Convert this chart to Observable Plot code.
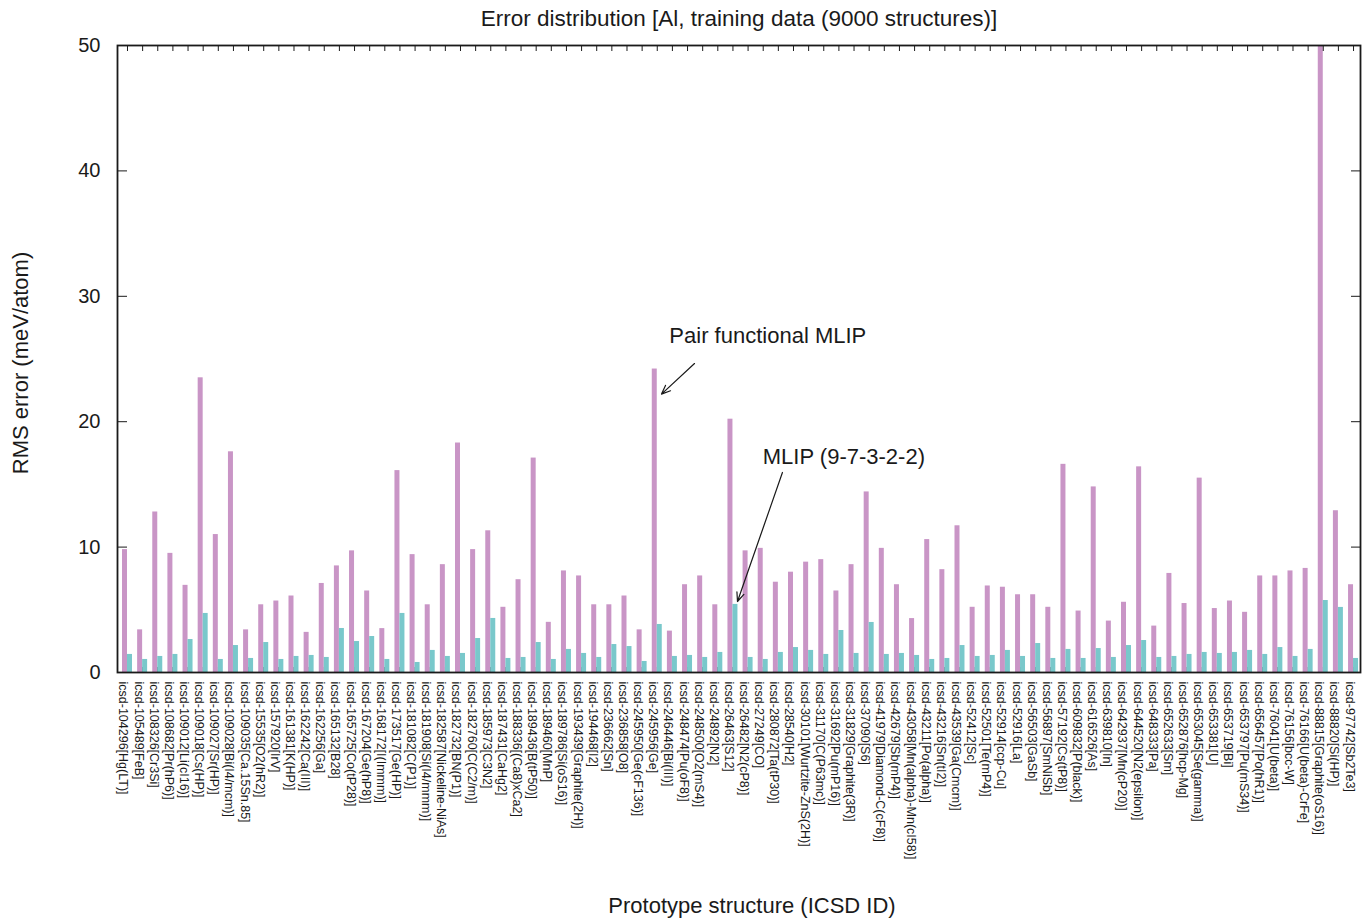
<!DOCTYPE html>
<html>
<head>
<meta charset="utf-8">
<script src="https://cdn.jsdelivr.net/npm/d3@7"></script>
<script src="https://cdn.jsdelivr.net/npm/@observablehq/plot@0.6"></script>
<style>
  html, body { margin: 0; padding: 0; background: #fff; }
  svg { display: block; }
</style>
</head>
<body>
<div id="chart"></div>
<script>
const categories = [
  "icsd-104296[Hg(LT)]","icsd-105489[FeB]","icsd-108326[Cr3Si]","icsd-108682[Pr(hP6)]","icsd-109012[Li(cI16)]",
  "icsd-109018[Cs(HP)]","icsd-109027[Sr(HP)]","icsd-109028[Bi(I4/mcm)]","icsd-109035[Ca.15Sn.85]","icsd-15535[O2(hR2)]",
  "icsd-157920[IrV]","icsd-161381[K(HP)]","icsd-162242[Ca(III)]","icsd-162256[Ga]","icsd-165132[B28]",
  "icsd-165725[Co(tP28)]","icsd-167204[Ge(hP8)]","icsd-168172[I(Immm)]","icsd-173517[Ge(HP)]","icsd-181082[C(P1)]",
  "icsd-181908[Si(I4/mmm)]","icsd-182587[Nickeline-NiAs]","icsd-182732[BN(P1)]","icsd-182760[C(C2/m)]","icsd-185973[C3N2]",
  "icsd-187431[CaHg2]","icsd-188336[(Ca8)xCa2]","icsd-189436[B(tP50)]","icsd-189460[MnP]","icsd-189786[Si(oS16)]",
  "icsd-193439[Graphite(2H)]","icsd-194468[I2]","icsd-236662[Sn]","icsd-236858[O8]","icsd-245950[Ge(cF136)]",
  "icsd-245956[Ge]","icsd-246446[Bi(III)]","icsd-248474[Pu(oF8)]","icsd-248500[O2(mS4)]","icsd-24892[N2]",
  "icsd-26463[S12]","icsd-26482[N2(cP8)]","icsd-27249[CO]","icsd-280872[Ta(tP30)]","icsd-28540[H2]",
  "icsd-30101[Wurtzite-ZnS(2H)]","icsd-31170[C(P63mc)]","icsd-31692[Pu(mP16)]","icsd-31829[Graphite(3R)]","icsd-37090[S6]",
  "icsd-41979[Diamond-C(cF8)]","icsd-42679[Sb(mP4)]","icsd-43058[Mn(alpha)-Mn(cI58)]","icsd-43211[Po(alpha)]","icsd-43216[Sn(tI2)]",
  "icsd-43539[Ga(Cmcm)]","icsd-52412[Sc]","icsd-52501[Te(mP4)]","icsd-52914[ccp-Cu]","icsd-52916[La]",
  "icsd-56503[GaSb]","icsd-56897[SmNiSb]","icsd-57192[Cs(tP8)]","icsd-609832[P(black)]","icsd-616526[As]",
  "icsd-639810[In]","icsd-642937[Mn(cP20)]","icsd-644520[N2(epsilon)]","icsd-648333[Pa]","icsd-652633[Sm]",
  "icsd-652876[hcp-Mg]","icsd-653045[Se(gamma)]","icsd-653381[U]","icsd-653719[Bi]","icsd-653797[Pu(mS34)]",
  "icsd-656457[Po(hR1)]","icsd-76041[U(beta)]","icsd-76156[bcc-W]","icsd-76166[U(beta)-CrFe]","icsd-88815[Graphite(oS16)]",
  "icsd-88820[Si(HP)]","icsd-97742[Sb2Te3]"
];

// Pair functional MLIP RMS error (meV/atom)
const pairFunctional = [
  9.8, 3.4, 12.8, 9.5, 6.95, 23.5, 11.0, 17.6, 3.4, 5.4,
  5.7, 6.1, 3.2, 7.1, 8.5, 9.7, 6.5, 3.5, 16.1, 9.4,
  5.4, 8.6, 18.3, 9.8, 11.3, 5.2, 7.4, 17.1, 4.0, 8.1,
  7.7, 5.4, 5.4, 6.1, 3.4, 24.2, 3.3, 7.0, 7.7, 5.4,
  20.2, 9.7, 9.9, 7.2, 8.0, 8.8, 9.0, 6.5, 8.6, 14.4,
  9.9, 7.0, 4.3, 10.6, 8.2, 11.7, 5.2, 6.9, 6.8, 6.2,
  6.2, 5.2, 16.6, 4.9, 14.8, 4.1, 5.6, 16.4, 3.7, 7.9,
  5.5, 15.5, 5.1, 5.7, 4.8, 7.7, 7.7, 8.1, 8.3, 50,
  12.9, 7.0
];

// MLIP (9-7-3-2-2) RMS error (meV/atom)
const mlip = [
  1.44, 1.04, 1.28, 1.44, 2.63, 4.71, 1.04, 2.15, 1.12, 2.39,
  1.04, 1.28, 1.36, 1.20, 3.51, 2.47, 2.87, 1.04, 4.71, 0.80,
  1.76, 1.28, 1.52, 2.71, 4.31, 1.12, 1.20, 2.39, 1.04, 1.84,
  1.52, 1.20, 2.23, 2.07, 0.88, 3.83, 1.28, 1.36, 1.20, 1.60,
  5.43, 1.20, 1.04, 1.60, 1.99, 1.76, 1.44, 3.35, 1.52, 3.99,
  1.44, 1.52, 1.36, 1.04, 1.12, 2.15, 1.28, 1.36, 1.76, 1.28,
  2.31, 1.12, 1.84, 1.12, 1.91, 1.20, 2.15, 2.55, 1.20, 1.28,
  1.44, 1.60, 1.52, 1.60, 1.76, 1.44, 1.99, 1.28, 1.84, 5.74,
  5.19, 1.12
];

const yTicks = [0, 10, 20, 30, 40, 50];

const titleText = "Error distribution [Al, training data (9000 structures)]";
const xTitle = "Prototype structure (ICSD ID)";
const yTitle = "RMS error (meV/atom)";

const purple = "#c995c6";
const cyan = "#79c8cb";
const ink = "#1a1a1a";
const font = "'Liberation Sans', Arial, Helvetica, sans-serif";

const idx = categories.map((_, i) => i);
const rowsP = categories.map((c, i) => ({i, c, v: pairFunctional[i]}));
const rowsM = categories.map((c, i) => ({i, c, v: mlip[i]}));

// annotations, anchored on the bar they point at
const annotations = [
  {label: "Pair functional MLIP", i: 35, v: pairFunctional[35],
   tx: 0.8, ty: 2.67, sx: 2.46, sy: 0.44, ex: 0.28, ey: -2.0},
  {label: "MLIP (9-7-3-2-2)", i: 40, v: mlip[40],
   tx: 1.97, ty: 11.72, sx: 3.27, sy: 10.52, ex: 0.3, ey: 0.23}
];

const barW = 0.33;

const chart = Plot.plot({
  width: 1369,
  height: 919,
  marginLeft: 117,
  marginRight: 9,
  marginTop: 45,
  marginBottom: 247,
  style: {fontFamily: font, color: ink, background: "#fff"},
  x: {type: "linear", domain: [-0.66, 81.46]},
  y: {domain: [0, 50]},
  marks: [
    Plot.axisX({anchor: "bottom", ticks: idx, tickSize: -5, tickFormat: () => "", label: null, stroke: ink}),
    Plot.rectY(rowsP, {x1: d => d.i - barW, x2: d => d.i, y: "v", fill: purple, clip: true}),
    Plot.rectY(rowsM, {x1: d => d.i, x2: d => d.i + barW, y: "v", fill: cyan, clip: true}),
    Plot.axisX({anchor: "top", ticks: idx, tickSize: -5, tickFormat: () => "", label: null, stroke: ink}),
    Plot.axisX({anchor: "bottom", ticks: idx, tickSize: 0, tickPadding: 9, tickRotate: 90,
      tickFormat: i => categories[i], fontSize: 12.5, dx: -4, label: null, fill: ink}),
    Plot.axisY({anchor: "left", ticks: yTicks, tickSize: -10, tickPadding: 27, fontSize: 20, label: null, stroke: ink, fill: ink}),
    Plot.axisY({anchor: "right", ticks: yTicks, tickSize: -10, tickFormat: () => "", label: null, stroke: ink}),
    Plot.frame({stroke: ink, strokeWidth: 1.8}),
    // titles
    Plot.text([titleText], {frameAnchor: "top", lineAnchor: "middle", dy: -27, fontSize: 22.5, fill: ink}),
    Plot.text([xTitle], {frameAnchor: "bottom", lineAnchor: "middle", textAnchor: "middle", dy: 233, dx: 13, fontSize: 22, fill: ink}),
    Plot.text([yTitle], {frameAnchor: "left", textAnchor: "middle", lineAnchor: "middle", rotate: -90, dx: -97, dy: 4, fontSize: 22, fill: ink}),
    // annotations
    Plot.text(annotations, {x: d => d.i + d.tx, y: d => d.v + d.ty, text: "label", textAnchor: "start", fontSize: 22, fill: ink}),
    Plot.arrow(annotations, {x1: d => d.i + d.sx, y1: d => d.v + d.sy, x2: d => d.i + d.ex, y2: d => d.v + d.ey,
      stroke: ink, strokeWidth: 1.2, headLength: 12, headAngle: 45})
  ]
});

document.getElementById("chart").appendChild(chart);
</script>
</body>
</html>
